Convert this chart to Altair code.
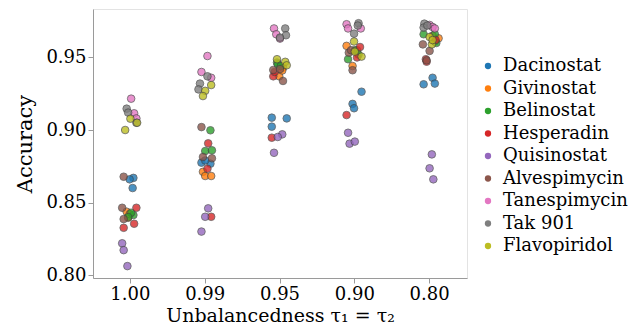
import altair as alt
import pandas as pd

taus = ["1.00", "0.99", "0.95", "0.90", "0.80"]
drugs = ["Dacinostat", "Givinostat", "Belinostat", "Hesperadin", "Quisinostat",
         "Alvespimycin", "Tanespimycin", "Tak 901", "Flavopiridol"]
colors = ["#1f77b4", "#ff7f0e", "#2ca02c", "#d62728", "#9467bd",
          "#8c564b", "#e377c2", "#7f7f7f", "#bcbd22"]

# accuracy per drug: 3 runs for each tau (1.00, 0.99, 0.95, 0.90, 0.80)
acc = {
    "Dacinostat":   [0.867, 0.866, 0.860, 0.8775, 0.8768, 0.879, 0.9085, 0.908, 0.9023, 0.9264, 0.918, 0.915, 0.9315, 0.936, 0.932],
    "Givinostat":   [0.8437, 0.8395, 0.842, 0.8712, 0.8683, 0.8683, 0.943, 0.937, 0.941, 0.958, 0.9441, 0.955, 0.9632, 0.961, 0.965],
    "Belinostat":   [0.8414, 0.843, 0.840, 0.8998, 0.8855, 0.886, 0.9465, 0.9453, 0.944, 0.9488, 0.955, 0.952, 0.966, 0.966, 0.960],
    "Hesperadin":   [0.8464, 0.8354, 0.8326, 0.8908, 0.8733, 0.8402, 0.937, 0.940, 0.8947, 0.9572, 0.950, 0.9103, 0.9488, 0.9471, 0.962],
    "Quisinostat":  [0.8219, 0.8172, 0.8062, 0.846, 0.8402, 0.830, 0.897, 0.8952, 0.8843, 0.8981, 0.8906, 0.892, 0.8832, 0.8736, 0.866],
    "Alvespimycin": [0.8678, 0.8464, 0.8386, 0.902, 0.8814, 0.8805, 0.9414, 0.9338, 0.942, 0.9533, 0.9412, 0.955, 0.959, 0.9545, 0.948],
    "Tanespimycin": [0.9216, 0.9115, 0.908, 0.951, 0.940, 0.936, 0.970, 0.966, 0.963, 0.9729, 0.970, 0.970, 0.9724, 0.971, 0.970],
    "Tak 901":      [0.9147, 0.912, 0.905, 0.937, 0.932, 0.928, 0.970, 0.9653, 0.9637, 0.9736, 0.9664, 0.972, 0.9733, 0.9706, 0.972],
    "Flavopiridol": [0.9078, 0.905, 0.900, 0.931, 0.927, 0.9234, 0.9488, 0.947, 0.9446, 0.961, 0.954, 0.9506, 0.9641, 0.959, 0.962],
}
# strip-plot jitter (fraction of category width)
jit = {
    "Dacinostat":   [0.04, -0.01, 0.03, -0.05, 0.07, 0.0, -0.11, 0.09, -0.11, 0.09, -0.03, -0.01, -0.08, 0.04, 0.07],
    "Givinostat":   [-0.05, -0.03, -0.01, -0.03, 0.0, 0.08, 0.04, -0.01, 0.03, -0.11, -0.03, 0.03, 0.12, 0.07, 0.04],
    "Belinostat":   [0.04, 0.01, -0.03, 0.07, 0.0, 0.09, -0.04, -0.03, 0.01, -0.09, 0.0, 0.05, -0.08, 0.07, 0.09],
    "Hesperadin":   [0.08, 0.05, -0.09, 0.04, 0.03, 0.08, -0.09, -0.07, -0.11, 0.07, 0.03, -0.11, -0.05, -0.04, 0.08],
    "Quisinostat":  [-0.11, -0.09, -0.04, 0.04, 0.0, -0.05, 0.03, -0.03, -0.08, -0.09, -0.07, 0.0, 0.03, 0.0, 0.05],
    "Alvespimycin": [-0.09, -0.11, -0.09, -0.05, -0.03, 0.09, -0.09, 0.04, 0.0, -0.08, -0.03, -0.05, -0.09, 0.0, -0.04],
    "Tanespimycin": [0.01, 0.05, 0.08, 0.03, -0.05, 0.08, -0.08, -0.05, 0.0, -0.11, -0.09, 0.08, 0.0, 0.04, 0.07],
    "Tak 901":      [-0.05, -0.03, 0.08, 0.03, -0.07, -0.09, 0.07, 0.08, 0.0, 0.05, -0.01, 0.04, -0.07, -0.08, -0.03],
    "Flavopiridol": [0.0, 0.09, -0.07, 0.08, 0.0, -0.03, -0.04, 0.07, 0.09, -0.01, 0.0, 0.09, 0.0, 0.03, 0.04],
}

rows = []
for d in drugs:
    for i, (a, j) in enumerate(zip(acc[d], jit[d])):
        rows.append({"drug": d, "tau": taus[i // 3], "acc": a, "jit": j})
df = pd.DataFrame(rows)

FONT = "DejaVu Serif"

chart = alt.Chart(df).mark_circle(
    size=58, opacity=0.8, stroke="#404040", strokeWidth=0.8
).encode(
    x=alt.X("tau:N", sort=taus,
            scale=alt.Scale(paddingInner=0, paddingOuter=0),
            axis=alt.Axis(title="Unbalancedness τ₁ = τ₂", labelAngle=0,
                          labelPadding=2, titlePadding=3, titleFontSize=19)),
    xOffset=alt.XOffset("jit:Q", scale=alt.Scale(domain=[-0.5, 0.5])),
    y=alt.Y("acc:Q",
            scale=alt.Scale(domain=[0.798, 0.9834], nice=False, zero=False),
            axis=alt.Axis(title="Accuracy", values=[0.80, 0.85, 0.90, 0.95],
                          format=".2f", grid=False, titlePadding=10)),
    color=alt.Color("drug:N", sort=drugs,
                    scale=alt.Scale(domain=drugs, range=colors),
                    legend=alt.Legend(title=None, orient="none",
                                      legendX=386, legendY=48,
                                      symbolType="circle", symbolSize=40,
                                      symbolStrokeWidth=0, symbolOpacity=1,
                                      labelFont=FONT, labelFontSize=18,
                                      labelColor="#000", rowPadding=4.5,
                                      labelOffset=6)),
    order=alt.Order("drug_idx:Q"),
).transform_calculate(
    drug_idx="indexof(" + str(drugs).replace("'", '"') + ", datum.drug)"
).properties(
    width=374, height=269,
    autosize=alt.AutoSizeParams(type="none"),
    padding={"left": 85, "top": 1, "right": 167, "bottom": 46},
).configure_view(
    stroke="#e3e3e3", strokeWidth=1
).configure_axis(
    labelFont=FONT, titleFont=FONT, labelFontSize=18, titleFontSize=21,
    labelColor="#000", titleColor="#000", titleFontWeight="normal",
    domainColor="#9a9a9a", tickColor="#9a9a9a", tickSize=5, grid=False,
)

chart.save("out.html", embed_options={"renderer": "svg", "actions": False})
